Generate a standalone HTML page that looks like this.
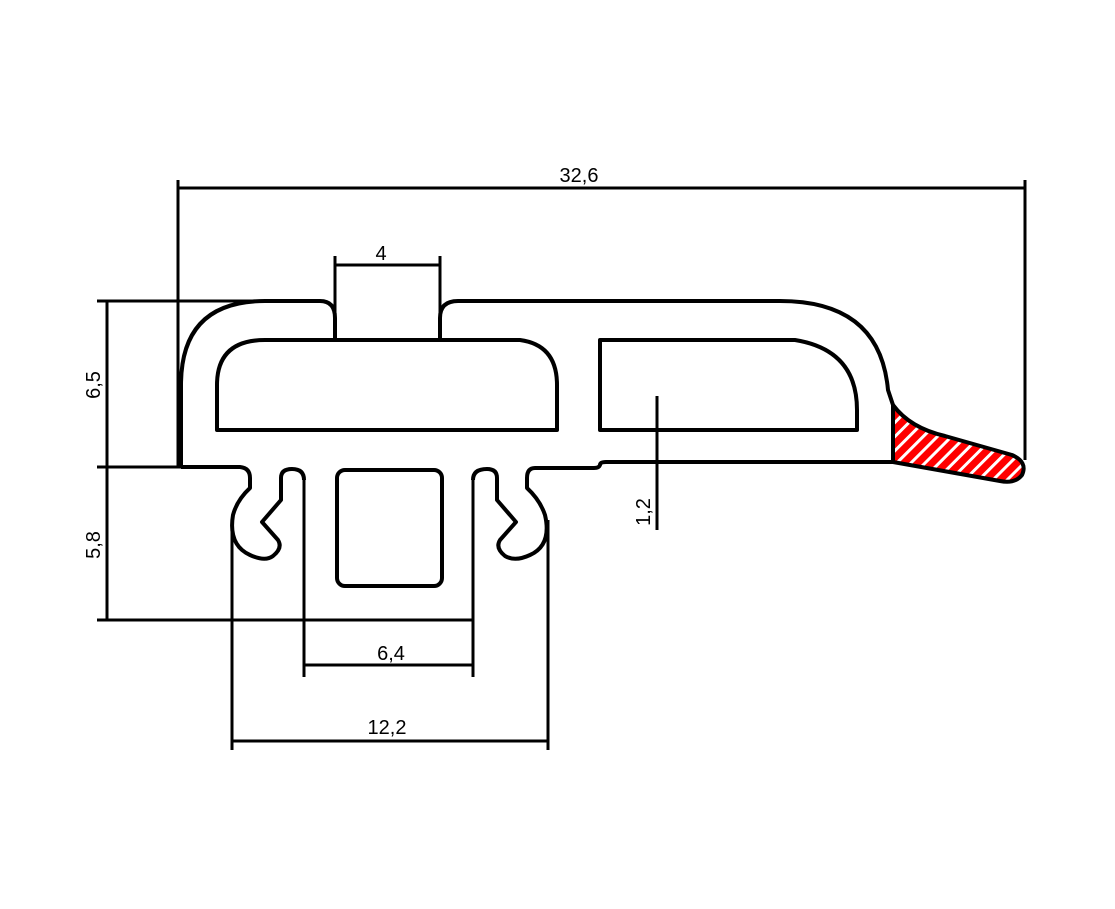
<!DOCTYPE html>
<html><head><meta charset="utf-8"><style>html,body{margin:0;padding:0;background:#fff}svg{display:block}</style></head><body>
<svg width="1115" height="909" viewBox="0 0 1115 909" xmlns="http://www.w3.org/2000/svg">
<defs>
<pattern id="h" width="10" height="10" patternUnits="userSpaceOnUse" patternTransform="rotate(45)">
<rect width="10" height="10" fill="#f00"/><rect width="3" height="10" fill="#fff"/>
</pattern>
<marker id="a" markerWidth="16" markerHeight="6" refX="15" refY="3" orient="auto-start-reverse" markerUnits="userSpaceOnUse">
<path d="M0,1.5 L16,3 L0,4.5Z" fill="#000"/></marker>
</defs>
<g fill="none" stroke="#000" stroke-width="4" stroke-linejoin="round">
<path d="M893,405 Q910,428 945,436 L1012,455 Q1028,462 1022,475 Q1015,484 1000,481 L893,462 Z" fill="url(#h)"/>
<path d="M181,467 L181,385 Q181,301 265,301 L320,301 Q335,301 335,318 L335,340"/>
<path d="M440,340 L440,318 Q440,301 458,301 L780,301 Q880,301 888,390 L893,405 L893,462 L606,462 Q600,462 600,465 Q599,468 594,468 L535,468 Q527,468 527,478 L527,488 Q540,500 545,515 Q552,545 530,555 Q515,562 505,556 Q495,548 500,540 L516,522 L497,500 L497,478 Q497,469 487,469 Q473,469 473,480"/>
<path d="M181,467 L240,467 Q250,468 250,478 L250,488 Q237,500 233,515 Q228,545 250,555 Q265,562 273,556 Q283,548 278,540 L262,522 L281,500 L281,478 Q281,469 292,469 Q304,469 304,480"/>
<path d="M335,340 L520,340 Q557,345 557,385 L557,430 L217,430 L217,385 Q217,340 265,340 L335,340"/>
<path d="M600,340 L795,340 Q857,350 857,410 L857,430 L600,430 Z"/>
<rect x="337" y="470" width="105" height="116" rx="8"/>
</g>
<g stroke="#000" stroke-width="3" fill="none">
<line x1="178" y1="180" x2="178" y2="467"/>
<line x1="1025" y1="180" x2="1025" y2="460"/>
<line x1="335" y1="256" x2="335" y2="340"/>
<line x1="440" y1="256" x2="440" y2="340"/>
<line x1="97" y1="301" x2="265" y2="301"/>
<line x1="97" y1="467" x2="181" y2="467"/>
<line x1="97" y1="620" x2="472" y2="620"/>
<line x1="232" y1="520" x2="232" y2="750"/>
<line x1="548" y1="520" x2="548" y2="750"/>
<line x1="304" y1="476" x2="304" y2="677"/>
<line x1="473" y1="476" x2="473" y2="677"/>
<line x1="178" y1="188" x2="1025" y2="188" marker-start="url(#a)" marker-end="url(#a)"/>
<line x1="335" y1="265" x2="440" y2="265" marker-start="url(#a)" marker-end="url(#a)"/>
<line x1="107" y1="301" x2="107" y2="467" marker-start="url(#a)" marker-end="url(#a)"/>
<line x1="107" y1="467" x2="107" y2="620" marker-start="url(#a)" marker-end="url(#a)"/>
<line x1="304" y1="665" x2="473" y2="665" marker-start="url(#a)" marker-end="url(#a)"/>
<line x1="232" y1="741" x2="548" y2="741" marker-start="url(#a)" marker-end="url(#a)"/>
<line x1="657" y1="396" x2="657" y2="430" marker-end="url(#a)"/>
<line x1="657" y1="430" x2="657" y2="462"/>
<line x1="657" y1="530" x2="657" y2="462" marker-end="url(#a)"/>
</g>
<g font-family="Liberation Sans, sans-serif" font-size="20" fill="#000" text-anchor="middle">
<text x="579" y="182">32,6</text>
<text x="381" y="260">4</text>
<text x="391" y="660">6,4</text>
<text x="387" y="734">12,2</text>
<text transform="translate(100,385) rotate(-90)">6,5</text>
<text transform="translate(100,545) rotate(-90)">5,8</text>
<text transform="translate(650,512) rotate(-90)">1,2</text>
</g>
</svg>
</body></html>
